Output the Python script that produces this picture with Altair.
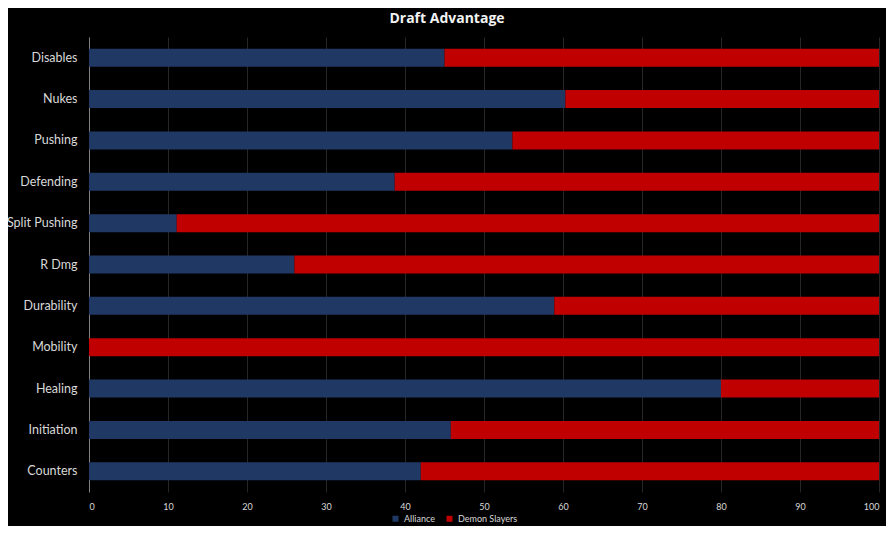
import altair as alt
import pandas as pd

categories = ["Disables", "Nukes", "Pushing", "Defending", "Split Pushing", "R Dmg",
              "Durability", "Mobility", "Healing", "Initiation", "Counters"]
alliance = [45, 60.3, 53.6, 38.7, 11.1, 26, 58.9, 0, 80, 45.8, 42]
demon_slayers = [55, 39.7, 46.4, 61.3, 88.9, 74, 41.1, 100, 20, 54.2, 58]
series = ["Alliance", "Demon Slayers"]
colors = ["#203864", "#C00000"]

rows = []
for c, a, d in zip(categories, alliance, demon_slayers):
    rows.append({"cat": c, "series": series[0], "value": a, "ord": 0})
    rows.append({"cat": c, "series": series[1], "value": d, "ord": 1})
df = pd.DataFrame(rows)

font = "Lato"

chart = alt.Chart(df).mark_bar(height=18).encode(
    y=alt.Y("cat:N", sort=categories, title=None,
            scale=alt.Scale(paddingInner=0, paddingOuter=0),
            axis=alt.Axis(labelColor="#d9d9d9", labelFontSize=12.5, labelFont=font,
                          labelPadding=12, ticks=False, domain=True,
                          domainColor="#7f7f7f", domainWidth=1, grid=False)),
    x=alt.X("value:Q", stack="zero", title=None,
            scale=alt.Scale(domain=[0, 100], nice=False),
            axis=alt.Axis(values=list(range(0, 101, 10)), labelColor="#d9d9d9",
                          labelFontSize=9, labelFont=font, labelPadding=10,
                          ticks=False, domain=False, grid=True,
                          gridColor="#262626", gridWidth=1)),
    color=alt.Color("series:N", scale=alt.Scale(domain=series, range=colors),
                    legend=alt.Legend(title=None, orient="none", legendX=302, legendY=477,
                                      direction="horizontal", symbolType="square",
                                      symbolSize=36, labelColor="#d9d9d9",
                                      labelFontSize=9, labelFont=font, columnPadding=10)),
    order=alt.Order("ord:Q"),
).properties(
    width=790, height=455,
    background="#000000",
    padding={"left": 81, "top": 29, "right": 7, "bottom": 34},
    autosize=alt.AutoSizeParams(type="none"),
    title=alt.TitleParams("Draft Advantage", color="#f2f2f2", fontSize=14,
                          font="Open Sans", fontWeight="bold", offset=11,
                          anchor="middle", dx=-37)
).configure_view(stroke=None)

chart.save("out.html", embed_options={"renderer": "svg", "actions": False})
